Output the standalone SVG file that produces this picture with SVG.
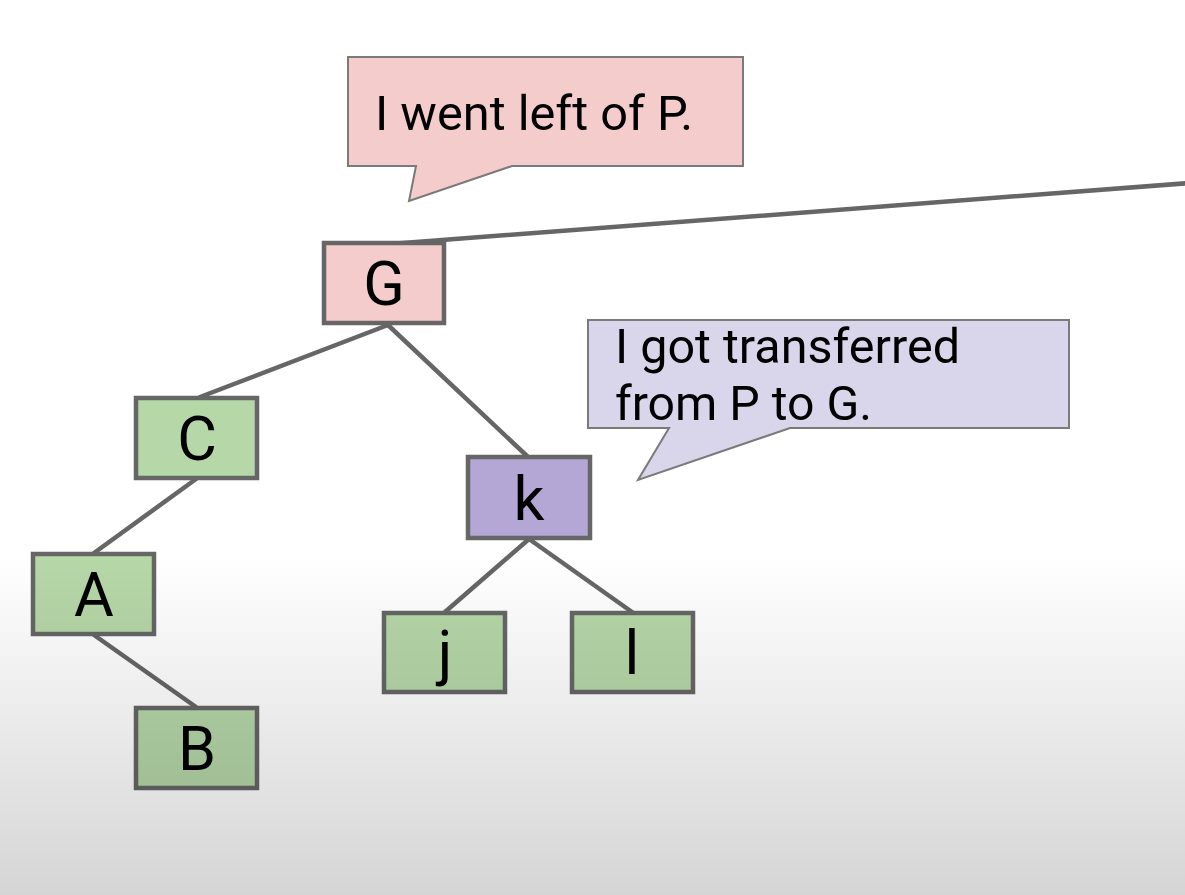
<svg xmlns="http://www.w3.org/2000/svg" width="1185" height="895" viewBox="0 0 1185 895">
<defs>
<linearGradient id="shade" x1="0" y1="0" x2="0" y2="1">
<stop offset="0" stop-color="#000000" stop-opacity="0"/>
<stop offset="0.62" stop-color="#000000" stop-opacity="0"/>
<stop offset="1" stop-color="#000000" stop-opacity="0.165"/>
</linearGradient>
<style>
.edge{stroke:#666666;stroke-width:4.5;fill:none;stroke-linecap:round}
.node rect{stroke:#666666;stroke-width:4.5}
.green{fill:#b6d7a8}
.pink{fill:#f4cccc}
.purple{fill:#b4a7d6}
.lbl{font-family:Roboto,"Liberation Sans",sans-serif;font-size:61px;fill:#000;text-anchor:middle}
.call{stroke:#7a7a7a;stroke-width:2;stroke-linejoin:miter}
.ctext{font-family:Roboto,"Liberation Sans",sans-serif;font-size:48px;fill:#000}
</style>
</defs>
<rect x="0" y="0" width="1185" height="895" fill="#ffffff"/>

<g id="connectors">
<line class="edge" x1="390" y1="244" x2="1190" y2="183"/>
<line class="edge" x1="388" y1="325" x2="200" y2="397"/>
<line class="edge" x1="388" y1="325" x2="527" y2="456"/>
<line class="edge" x1="196" y1="479" x2="94" y2="553"/>
<line class="edge" x1="94" y1="635" x2="196" y2="707"/>
<line class="edge" x1="529" y1="539" x2="445" y2="612"/>
<line class="edge" x1="529" y1="539" x2="632" y2="612"/>
</g>

<g id="callout-left">
<path class="call" fill="#f4cccc" d="M348,57 H743 V166 H512 L409,201 L416,166 H348 Z"/>
<text class="ctext" x="375" y="130" textLength="318" lengthAdjust="spacingAndGlyphs">I went left of P.</text>
</g>

<g id="callout-right">
<path class="call" fill="#d9d5ea" d="M588,320 H1069 V428 H790 L638,480 L669,428 H588 Z"/>
<text class="ctext" x="615" y="363" textLength="345" lengthAdjust="spacingAndGlyphs">I got transferred</text>
<text class="ctext" x="615" y="420" textLength="257" lengthAdjust="spacingAndGlyphs">from P to G.</text>
</g>

<g id="node-G" class="node">
<rect class="pink" x="324" y="243" width="120" height="80"/>
<text class="lbl" x="384" y="305">G</text>
</g>
<g id="node-C" class="node">
<rect class="green" x="136" y="398" width="121" height="80"/>
<text class="lbl" x="197" y="460">C</text>
</g>
<g id="node-A" class="node">
<rect class="green" x="33" y="554" width="121" height="80"/>
<text class="lbl" x="94" y="616">A</text>
</g>
<g id="node-B" class="node">
<rect class="green" x="136" y="708" width="121" height="80"/>
<text class="lbl" x="197" y="770">B</text>
</g>
<g id="node-k" class="node">
<rect class="purple" x="468" y="457" width="122" height="81"/>
<text class="lbl" x="529" y="520">k</text>
</g>
<g id="node-j" class="node">
<rect class="green" x="384" y="613" width="121" height="79"/>
<text class="lbl" x="445" y="674">j</text>
</g>
<g id="node-l" class="node">
<rect class="green" x="572" y="613" width="121" height="79"/>
<text class="lbl" x="632" y="674">l</text>
</g>

<rect x="0" y="0" width="1185" height="895" fill="url(#shade)" pointer-events="none"/>
</svg>
